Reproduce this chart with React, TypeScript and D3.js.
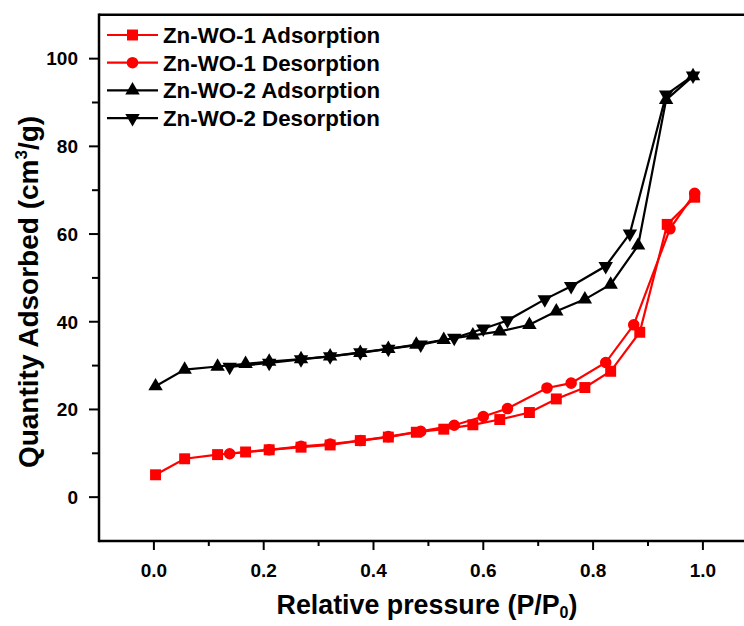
import React, { useEffect, useRef } from "react";
import {
  select,
  scaleLinear,
  line,
  symbol,
  symbolSquare,
  symbolCircle,
  symbolTriangle
} from "d3";

// Zn-WO-1 (red)
const pAds1 = [0.003, 0.056, 0.116, 0.167, 0.21, 0.268, 0.321, 0.376, 0.427, 0.478, 0.528, 0.581, 0.63, 0.684, 0.733, 0.785, 0.832, 0.885, 0.935, 0.985];
const vAds1 = [5.1, 8.75, 9.7, 10.3, 10.8, 11.4, 11.9, 12.9, 13.7, 14.8, 15.5, 16.5, 17.7, 19.3, 22.4, 25.0, 28.7, 37.6, 62.2, 68.4];
const pDes1 = [0.985, 0.94, 0.874, 0.823, 0.76, 0.716, 0.644, 0.6, 0.547, 0.486, 0.427, 0.376, 0.321, 0.268, 0.21, 0.138];
const vDes1 = [69.3, 61.2, 39.3, 30.7, 26.0, 24.9, 20.2, 18.4, 16.4, 15.0, 13.8, 12.9, 12.1, 11.6, 10.8, 9.9];

// Zn-WO-2 (black)
const pAds2 = [0.003, 0.056, 0.116, 0.167, 0.21, 0.268, 0.321, 0.376, 0.427, 0.478, 0.528, 0.581, 0.63, 0.684, 0.733, 0.785, 0.832, 0.882, 0.933, 0.982];
const vAds2 = [25.3, 29.1, 29.8, 30.4, 30.9, 31.5, 32.1, 32.9, 33.8, 34.8, 35.9, 36.9, 37.8, 39.3, 42.4, 45.1, 48.5, 57.4, 90.6, 96.0];
const pDes2 = [0.982, 0.933, 0.867, 0.823, 0.76, 0.712, 0.644, 0.6, 0.547, 0.486, 0.427, 0.376, 0.321, 0.268, 0.21, 0.138];
const vDes2 = [96.1, 91.8, 60.1, 52.7, 48.1, 45.1, 40.3, 38.4, 36.3, 34.8, 33.8, 33.0, 32.1, 31.4, 30.6, 29.7];

const seriesNames = ["Zn-WO-1 Adsorption", "Zn-WO-1 Desorption", "Zn-WO-2 Adsorption", "Zn-WO-2 Desorption"];

const xMajor = [0, 0.2, 0.4, 0.6, 0.8, 1.0];
const xMinor = [0.1, 0.3, 0.5, 0.7, 0.9];
const yMajor = [0, 20, 40, 60, 80, 100];
const yMinor = [10, 30, 50, 70, 90];

const W = 744;
const H = 626;
const FONT = "'Liberation Sans', Arial, sans-serif";

const App = () => {
  const svgRef = useRef<SVGSVGElement>(null);

  useEffect(() => {
    const svg = select(svgRef.current);
    svg.selectAll("*").remove();

    const x = scaleLinear().domain([-0.1, 1.1]).range([99, 757.8]);
    const y = scaleLinear().domain([-10, 110]).range([541, 14.8]);

    const series = [
      { name: seriesNames[0], p: pAds1, v: vAds1, color: "#ff0000", shape: symbolSquare, size: 120, rot: 0 },
      { name: seriesNames[1], p: pDes1, v: vDes1, color: "#ff0000", shape: symbolCircle, size: 105, rot: 0 },
      { name: seriesNames[2], p: pAds2, v: vAds2, color: "#000000", shape: symbolTriangle, size: 90, rot: 0 },
      { name: seriesNames[3], p: pDes2, v: vDes2, color: "#000000", shape: symbolTriangle, size: 90, rot: 180 }
    ];

    series.forEach((s) => {
      const pts = s.p.map((p, i) => [x(p), y(s.v[i])] as [number, number]);
      svg
        .append("path")
        .attr("d", line()(pts))
        .attr("fill", "none")
        .attr("stroke", s.color)
        .attr("stroke-width", 2.2);
      svg
        .append("g")
        .selectAll("path")
        .data(pts)
        .join("path")
        .attr("d", symbol().type(s.shape).size(s.size)())
        .attr("transform", (d) => `translate(${d[0]},${d[1]}) rotate(${s.rot})`)
        .attr("fill", s.color);
    });

    // frame
    const ax = svg.append("g").attr("stroke", "#000").attr("stroke-width", 2.5);
    ax.append("line").attr("x1", x(-0.1)).attr("x2", W).attr("y1", y(-10)).attr("y2", y(-10));
    ax.append("line").attr("x1", x(-0.1)).attr("x2", W).attr("y1", y(110)).attr("y2", y(110));
    ax.append("line").attr("x1", x(-0.1)).attr("x2", x(-0.1)).attr("y1", y(110) - 1.2).attr("y2", y(-10) + 1.2);

    const tk = svg.append("g").attr("stroke", "#000").attr("stroke-width", 2);
    xMajor.forEach((t) => tk.append("line").attr("x1", x(t)).attr("x2", x(t)).attr("y1", y(-10)).attr("y2", y(-10) + 9));
    xMinor.forEach((t) => tk.append("line").attr("x1", x(t)).attr("x2", x(t)).attr("y1", y(-10)).attr("y2", y(-10) + 5));
    yMajor.forEach((t) => tk.append("line").attr("x1", x(-0.1)).attr("x2", x(-0.1) - 10).attr("y1", y(t)).attr("y2", y(t)));
    yMinor.forEach((t) => tk.append("line").attr("x1", x(-0.1)).attr("x2", x(-0.1) - 7).attr("y1", y(t)).attr("y2", y(t)));

    const txt = svg.append("g").attr("font-family", FONT).attr("font-weight", "bold").attr("fill", "#000");
    xMajor.forEach((t) =>
      txt.append("text").attr("x", x(t)).attr("y", 577).attr("text-anchor", "middle").attr("font-size", 19).text(t.toFixed(1))
    );
    yMajor.forEach((t) =>
      txt.append("text").attr("x", 78).attr("y", y(t)).attr("dy", "0.36em").attr("text-anchor", "end").attr("font-size", 19).text(t)
    );

    // axis titles
    const xt = txt.append("text").attr("x", 427).attr("y", 614).attr("text-anchor", "middle").attr("font-size", 26.8);
    xt.append("tspan").text("Relative pressure (P/P");
    xt.append("tspan").attr("font-size", 16).attr("dy", 4).text("0");
    xt.append("tspan").attr("dy", -4).text(")");

    const yt = txt
      .append("text")
      .attr("transform", `translate(38, 292) rotate(-90)`)
      .attr("text-anchor", "middle")
      .attr("font-size", 28);
    yt.append("tspan").text("Quantity Adsorbed (cm");
    yt.append("tspan").attr("font-size", 17).attr("dy", -11).text("3");
    yt.append("tspan").attr("dy", 11).text("/g)");

    // legend
    series.forEach((s, i) => {
      const ly = 35 + i * 27.7;
      const g = svg.append("g");
      g.append("line").attr("x1", 107).attr("x2", 158).attr("y1", ly).attr("y2", ly).attr("stroke", s.color).attr("stroke-width", 2.2);
      g.append("path")
        .attr("d", symbol().type(s.shape).size(s.size)())
        .attr("transform", `translate(132.5,${ly}) rotate(${s.rot})`)
        .attr("fill", s.color);
      g.append("text")
        .attr("x", 163)
        .attr("y", ly)
        .attr("dy", "0.36em")
        .attr("font-family", FONT)
        .attr("font-weight", "bold")
        .attr("font-size", 22.3)
        .text(s.name);
    });
  }, []);

  return (
    <div style={{ position: "absolute", left: 0, top: 0, width: W, height: H, background: "#fff" }}>
      <svg ref={svgRef} width={W} height={H} />
    </div>
  );
};

export default App;
